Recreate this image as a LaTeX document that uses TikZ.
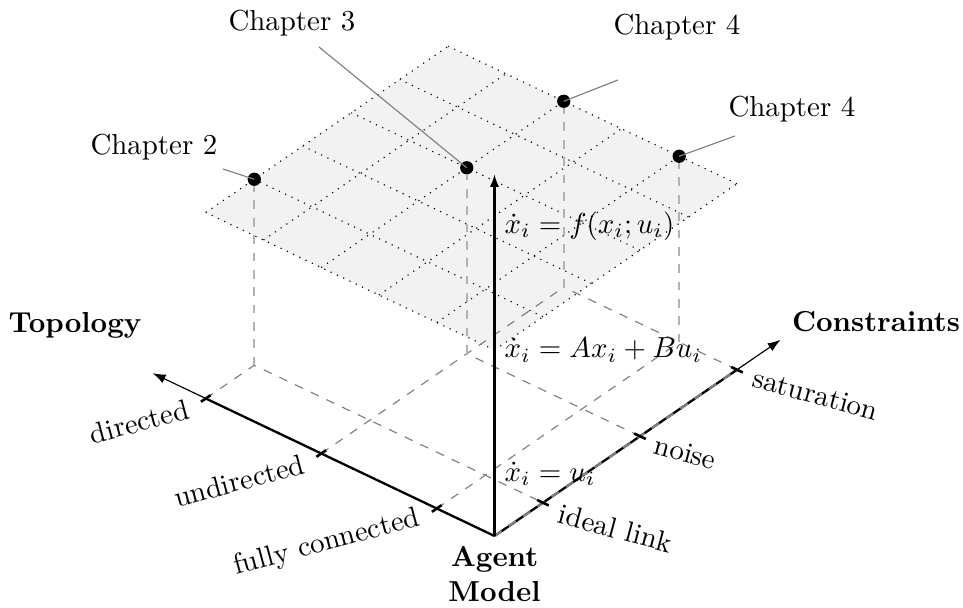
\documentclass[tikz,border=0pt]{standalone}
\usetikzlibrary{arrows.meta,calc}
\begin{document}
\begin{tikzpicture}[
  x={(-39.96pt,19.03pt)}, y={(33.56pt,23.01pt)}, z={(0pt,42.9pt)},
  axthick/.style={line width=0.8pt},
  axarrow/.style={line width=0.4pt,-{Latex[length=4.5pt,width=3.2pt]}},
  zarrow/.style={line width=0.8pt,-{Latex[length=4.5pt,width=3.2pt]}},
  gdash/.style={gray, dashed, line width=0.4pt},
  vdash/.style={gray!60, dashed, line width=0.6pt},
  gridline/.style={dotted, line width=0.4pt},
  tickmark/.style={line width=0.9pt},
  dotnode/.style={circle, fill=black, inner sep=0pt, minimum size=4.6pt},
  leader/.style={gray, line width=0.4pt},
  toplabel/.style={rotate=15, anchor=east, inner sep=0pt},
  conlabel/.style={rotate=-15, anchor=west, inner sep=0pt},
  zlabel/.style={anchor=west},
  title/.style={font=\bfseries, align=center}
]
\useasboundingbox (-171.1pt,-24.91pt) rectangle (162.1pt,185.46pt);

% axis points
\coordinate (O) at (0,0,0);
\coordinate (tfc) at (0.5,0,0);
\coordinate (tund) at (1.5,0,0);
\coordinate (tdir) at (2.5,0,0);
\coordinate (cil) at (0,0.5,0);
\coordinate (cno) at (0,1.5,0);
\coordinate (csa) at (0,2.5,0);
\coordinate (xend) at (2.96,0,0);
\coordinate (yend) at (0,2.95,0);
\coordinate (zend) at (0,0,2.92);
\coordinate (zl1) at (0,0,0.5);
\coordinate (zl2) at (0,0,1.5);
\coordinate (zl3) at (0,0,2.5);

% ground projections of the chapter points
\coordinate (g2) at (2.5,0.5,0);
\coordinate (g3) at (1.5,1.5,0);
\coordinate (g4a) at (1.5,2.5,0);
\coordinate (g4b) at (0.5,2.5,0);

% design plane with its grid
\fill[gray!10] (0,0,1.5) -- (2.5,0,1.5) -- (2.5,2.5,1.5) -- (0,2.5,1.5) -- cycle;
\foreach \t in {0,0.5,1,1.5,2,2.5} {
  \draw[gridline] (\t,0,1.5) -- (\t,2.5,1.5);
  \draw[gridline] (0,\t,1.5) -- (2.5,\t,1.5);
}

% chapter points
\node[dotnode] (p2) at (2.5,0.5,1.5) {};
\node[dotnode] (p3) at (1.5,1.5,1.5) {};
\node[dotnode] (p4a) at (1.5,2.5,1.5) {};
\node[dotnode] (p4b) at (0.5,2.5,1.5) {};

% projection lines on the ground
\draw[gdash] (tdir) -- (g2) -- (cil);
\draw[gdash] (tund) -- (g4a);
\draw[gdash] (cno) -- (g3);
\draw[gdash] (csa) -- (g4a);
\draw[gdash] (tfc) -- (g4b);

% vertical drop lines
\draw[vdash] (g2) -- (p2);
\draw[vdash] (g3) -- (p3);
\draw[vdash] (g4a) -- (p4a);
\draw[vdash] (g4b) -- (p4b);

% axes
\draw[axthick] (O) -- (tdir);
\draw[axarrow] (O) -- (xend);
\draw[axthick] (O) -- (csa);
\draw[axarrow] (O) -- (yend);
\draw[gdash, line width=0.8pt] (O) -- (csa);
\draw[zarrow] (O) -- (zend);

% ticks
\draw[tickmark] (0.5,-0.05,0) -- (0.5,0.05,0);
\draw[tickmark] (1.5,-0.05,0) -- (1.5,0.05,0);
\draw[tickmark] (2.5,-0.05,0) -- (2.5,0.05,0);
\draw[tickmark] (-0.05,0.5,0) -- (0.05,0.5,0);
\draw[tickmark] (-0.05,1.5,0) -- (0.05,1.5,0);
\draw[tickmark] (-0.05,2.5,0) -- (0.05,2.5,0);

% tick labels
\node[toplabel] (lfc) at ($(tfc)+(-5.9pt,-3.4pt)$) {fully connected};
\node[toplabel] (lund) at ($(tund)+(-5.9pt,-3.4pt)$) {undirected};
\node[toplabel] (ldir) at ($(tdir)+(-5.9pt,-3.4pt)$) {directed};
\node[conlabel] (lil) at ($(cil)+(5.5pt,-3.6pt)$) {ideal link};
\node[conlabel] (lno) at ($(cno)+(5.0pt,-2.8pt)$) {noise};
\node[conlabel] (lsa) at ($(csa)+(5.5pt,-2.8pt)$) {saturation};
\node[zlabel] (lz1) at (zl1) {$\dot{x}_i = u_i$};
\node[zlabel] (lz2) at (zl2) {$\dot{x}_i = Ax_i + Bu_i$};
\node[zlabel] (lz3) at (zl3) {$\dot{x}_i = f(x_i;u_i)$};

% axis titles
\node[title] (ttop) at (-145.15pt,73.0pt) {Topology};
\node[title] (tcon) at (132.0pt,74.04pt) {Constraints};
\node[title, below] (tagent) at (O) {Agent\\Model};

% chapter labels
\node (c2) at (-117.81pt,134.59pt) {Chapter 2};
\node (c3) at (-70.07pt,177.5pt) {Chapter 3};
\node (c4a) at (63.15pt,176.11pt) {Chapter 4};
\node (c4b) at (102.94pt,147.74pt) {Chapter 4};
\coordinate (e2) at (-93.94pt,126.98pt);
\coordinate (e3) at (-60.72pt,169.19pt);
\coordinate (e4a) at (42.73pt,157.78pt);
\coordinate (e4b) at (83.21pt,138.4pt);
\draw[leader] (e2) -- (p2.center);
\draw[leader] (e3) -- (p3.center);
\draw[leader] (e4a) -- (p4a.center);
\draw[leader] (e4b) -- (p4b.center);
\end{tikzpicture}
\end{document}
